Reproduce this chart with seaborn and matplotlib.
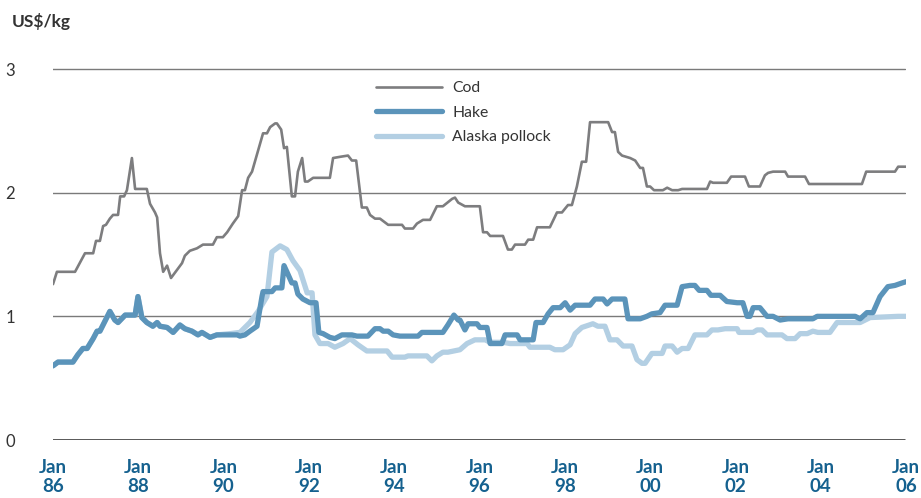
import matplotlib
matplotlib.use("Agg")
import matplotlib.pyplot as plt
import seaborn as sns
import pandas as pd

# ---- data (month index from Jan 1986, value in US$/kg) ----
cod_month = [0.0, 1.1, 6.2, 9.0, 11.3, 12.1, 13.2, 14.1, 14.9, 16.0, 16.9, 18.3, 18.9, 20.0, 20.8, 22.2, 23.1,
             26.4, 27.3, 28.7, 29.3, 30.1, 31.0, 32.1, 33.2, 36.3, 37.1, 38.5, 40.5, 42.2, 45.0, 46.1, 47.8,
             49.0, 50.6, 52.1, 53.2, 54.0, 54.9, 56.0, 59.1, 60.2, 61.1, 62.5, 63.0, 64.2, 65.0, 65.8, 67.2,
             68.1, 68.9, 70.1, 70.9, 71.7, 73.2, 77.9, 78.8, 80.8, 83.0, 84.1, 85.3, 86.9, 88.3, 89.2, 90.6,
             92.0, 94.3, 98.2, 99.0, 101.3, 102.4, 104.1, 106.1, 108.0, 109.7, 112.3, 113.1, 114.0, 115.9,
             120.1, 121.0, 122.1, 123.0, 126.6, 128.0, 129.1, 130.0, 132.8, 133.7, 135.1, 136.2, 139.8, 141.8,
             143.2, 144.9, 146.0, 147.4, 148.8, 150.0, 151.1, 156.2, 157.3, 158.1, 159.0, 160.1, 162.4, 163.8,
             165.2, 166.0, 167.1, 168.0, 169.1, 171.6, 172.8, 174.2, 175.9, 177.0, 184.0, 184.9, 185.7, 189.6,
             190.8, 194.7, 195.8, 198.9, 200.3, 201.2, 202.6, 206.0, 206.8, 211.6, 212.7, 227.6, 228.8, 236.9,
             237.8, 240.0]
cod_value = [1.26, 1.36, 1.36, 1.51, 1.51, 1.61, 1.61, 1.73, 1.74, 1.79, 1.82, 1.82, 1.97, 1.97, 2.02, 2.28, 2.03,
             2.03, 1.91, 1.84, 1.80, 1.51, 1.36, 1.41, 1.31, 1.43, 1.49, 1.53, 1.55, 1.58, 1.58, 1.64, 1.64,
             1.68, 1.75, 1.81, 2.02, 2.02, 2.12, 2.17, 2.48, 2.48, 2.53, 2.56, 2.56, 2.51, 2.36, 2.37, 1.97,
             1.97, 2.17, 2.28, 2.09, 2.09, 2.12, 2.12, 2.28, 2.29, 2.30, 2.26, 2.26, 1.88, 1.88, 1.82, 1.79,
             1.79, 1.74, 1.74, 1.71, 1.71, 1.75, 1.78, 1.78, 1.89, 1.89, 1.95, 1.96, 1.92, 1.89,
             1.89, 1.68, 1.68, 1.65, 1.65, 1.54, 1.54, 1.58, 1.58, 1.62, 1.62, 1.72, 1.72, 1.84,
             1.84, 1.90, 1.90, 2.05, 2.25, 2.25, 2.57, 2.57, 2.49, 2.49, 2.33, 2.30, 2.28, 2.26,
             2.20, 2.20, 2.05, 2.05, 2.02, 2.02, 2.04, 2.02, 2.02, 2.03, 2.03, 2.09, 2.08, 2.08,
             2.13, 2.13, 2.05, 2.05, 2.14, 2.16, 2.17, 2.17, 2.13, 2.13, 2.07, 2.07, 2.17, 2.17,
             2.21, 2.21]

hake_month = [0.0, 1.4, 5.6, 7.0, 8.4, 9.6, 11.3, 12.4, 13.2, 16.0, 17.4, 18.3, 20.3, 23.1, 23.9, 25.0, 26.4,
              28.1, 29.3, 30.1, 32.1, 33.8, 35.7, 37.1, 39.1, 40.8, 41.9, 44.2, 46.1, 51.8, 52.6, 54.0, 55.4,
              57.4, 58.8, 59.1, 61.6, 62.5, 64.4, 65.0, 65.8, 67.2, 68.1, 68.9, 70.3, 72.3, 74.0, 74.8, 76.0,
              77.9, 79.3, 81.3, 84.1, 85.5, 88.6, 90.6, 92.0, 92.9, 94.3, 95.7, 97.6, 102.7, 103.8, 109.7,
              111.1, 112.8, 114.0, 114.5, 115.9, 116.8, 119.3, 120.1, 122.1, 123.0, 126.3, 127.2, 130.6,
              131.4, 135.1, 135.9, 137.9, 139.3, 140.7, 142.7, 144.1, 145.5, 146.9, 151.1, 152.5, 154.8,
              155.9, 157.3, 160.9, 161.8, 165.2, 167.1, 168.5, 170.8, 172.2, 175.6, 177.0, 179.2, 180.6,
              181.8, 184.0, 185.1, 187.7, 189.6, 192.5, 194.1, 195.3, 196.1, 197.0, 198.9, 200.9, 202.6,
              204.6, 206.8, 208.2, 213.8, 215.0, 225.7, 227.1, 229.0, 230.7, 232.7, 234.9, 236.9, 238.9, 240.0]
hake_value = [0.60, 0.63, 0.63, 0.69, 0.74, 0.74, 0.82, 0.88, 0.88, 1.04, 0.97, 0.95, 1.01, 1.01, 1.16, 0.99, 0.95,
              0.92, 0.95, 0.92, 0.91, 0.87, 0.93, 0.90, 0.88, 0.85, 0.87, 0.83, 0.85, 0.85, 0.84, 0.85, 0.88,
              0.92, 1.16, 1.20, 1.20, 1.23, 1.23, 1.41, 1.36, 1.27, 1.27, 1.18, 1.14, 1.11, 1.11, 0.87, 0.86,
              0.83, 0.82, 0.85, 0.85, 0.84, 0.84, 0.90, 0.90, 0.88, 0.88, 0.85, 0.84, 0.84, 0.87, 0.87,
              0.93, 1.01, 0.97, 0.97, 0.89, 0.94, 0.94, 0.91, 0.91, 0.78, 0.78, 0.85, 0.85,
              0.81, 0.81, 0.95, 0.95, 1.02, 1.07, 1.07, 1.11, 1.05, 1.09, 1.09, 1.14, 1.14,
              1.10, 1.14, 1.14, 0.98, 0.98, 1.00, 1.02, 1.03, 1.09, 1.09, 1.24, 1.25, 1.25,
              1.21, 1.21, 1.17, 1.17, 1.12, 1.11, 1.11, 1.00, 1.00, 1.07, 1.07, 1.00, 1.00,
              0.97, 0.98, 0.98, 0.98, 1.00, 1.00, 0.98, 1.03, 1.03, 1.16, 1.24, 1.25, 1.27, 1.28]

pollock_month = [0.0, 1.4, 5.6, 7.0, 8.4, 9.6, 11.3, 12.4, 13.2, 16.0, 17.4, 18.3, 20.3, 23.1, 23.9, 25.0, 26.4,
                 28.1, 29.3, 30.1, 32.1, 33.8, 35.7, 37.1, 39.1, 40.8, 41.9, 44.2, 46.1, 49.8, 52.6, 55.4, 57.7,
                 60.2, 61.6, 63.9, 65.8, 67.5, 69.5, 71.5, 72.9, 73.7, 75.1, 77.4, 79.3, 81.6, 83.6, 85.8, 88.3,
                 94.0, 95.4, 99.0, 99.9, 105.2, 106.6, 108.0, 109.7, 111.1, 114.5, 116.5, 118.7, 121.6, 123.0,
                 126.6, 128.6, 133.4, 134.2, 139.8, 141.2, 143.5, 145.5, 146.9, 148.8, 151.9, 153.3, 155.3,
                 156.7, 158.7, 160.4, 162.9, 164.3, 165.7, 166.6, 168.5, 171.4, 172.2, 174.2, 175.6, 177.0,
                 178.7, 180.6, 184.0, 185.4, 187.1, 189.1, 192.5, 193.0, 197.0, 198.1, 199.5, 200.9, 205.1,
                 206.5, 208.8, 210.2, 212.2, 213.8, 215.2, 218.6, 220.6, 227.1, 229.9, 237.8, 240.0]
pollock_value = [0.60, 0.63, 0.63, 0.69, 0.74, 0.74, 0.82, 0.88, 0.88, 1.04, 0.97, 0.95, 1.01, 1.01, 1.16, 0.99, 0.95,
                 0.92, 0.95, 0.92, 0.91, 0.87, 0.93, 0.90, 0.88, 0.85, 0.87, 0.83, 0.85, 0.86, 0.87, 0.95, 1.04,
                 1.16, 1.52, 1.57, 1.54, 1.45, 1.37, 1.19, 1.19, 0.85, 0.78, 0.78, 0.75, 0.78, 0.82, 0.77, 0.72,
                 0.72, 0.67, 0.67, 0.68, 0.68, 0.64, 0.68, 0.71, 0.71, 0.73, 0.78, 0.81, 0.81, 0.79,
                 0.79, 0.78, 0.78, 0.75, 0.75, 0.73, 0.73, 0.77, 0.86, 0.91, 0.94, 0.92, 0.92,
                 0.81, 0.81, 0.76, 0.76, 0.65, 0.62, 0.62, 0.70, 0.70, 0.76, 0.76, 0.71, 0.74,
                 0.74, 0.85, 0.85, 0.89, 0.89, 0.90, 0.90, 0.87, 0.87, 0.89, 0.89, 0.85, 0.85,
                 0.82, 0.82, 0.86, 0.86, 0.88, 0.87, 0.87, 0.95, 0.95, 0.99, 1.00, 1.00]

series_names = ["Cod", "Hake", "Alaska pollock"]
tick_months = [0, 24, 48, 72, 96, 120, 144, 168, 192, 216, 240]
tick_labels = ["Jan\n86", "Jan\n88", "Jan\n90", "Jan\n92", "Jan\n94", "Jan\n96",
               "Jan\n98", "Jan\n00", "Jan\n02", "Jan\n04", "Jan\n06"]
y_ticks = [0, 1, 2, 3]
y_label = "US$/kg"

# ---- style ----
sns.set_theme(style="white")
plt.rcParams["font.family"] = ["Lato", "DejaVu Sans"]

W, H = 921, 498
fig = plt.figure(figsize=(W / 100, H / 100), dpi=100)
left_px, right_px, bottom_px, top_px = 53, 906, 440, 64
ymax = 3 * (bottom_px - top_px) / (440 - 69)
ax = fig.add_axes([left_px / W, 1 - bottom_px / H, (right_px - left_px) / W, (bottom_px - top_px) / H])

c_cod, c_hake, c_pol = "#7d7d7f", "#5b94ba", "#b3cfe3"

for yv in y_ticks:
    ax.axhline(yv, color="#2b2b2b" if yv == 0 else "#7a7a7a", lw=1.1 if yv == 0 else 1.0,
               zorder=1, xmin=-0.001, xmax=0.9985)

df_cod = pd.DataFrame({"month": cod_month, "value": cod_value})
df_hake = pd.DataFrame({"month": hake_month, "value": hake_value})
df_pol = pd.DataFrame({"month": pollock_month, "value": pollock_value})

sns.lineplot(data=df_cod, x="month", y="value", ax=ax, color=c_cod, lw=1.9, zorder=3,
             estimator=None, sort=False, label=series_names[0])
sns.lineplot(data=df_pol, x="month", y="value", ax=ax, color=c_pol, lw=3.8, zorder=4,
             estimator=None, sort=False, label=series_names[2], solid_capstyle="round",
             solid_joinstyle="round")
sns.lineplot(data=df_hake, x="month", y="value", ax=ax, color=c_hake, lw=3.8, zorder=5,
             estimator=None, sort=False, label=series_names[1], solid_capstyle="round",
             solid_joinstyle="round")

ax.set_xlim(0, 240)
ax.set_ylim(0, ymax)
for s in ax.spines.values():
    s.set_visible(False)
ax.set_xlabel("")
ax.set_ylabel("")
ax.set_xticks(tick_months)
ax.set_xticklabels(tick_labels, fontsize=13.5, fontweight="bold", color="#15618f", linespacing=1.1)
ax.set_yticks(y_ticks)
ax.set_yticklabels([str(v) for v in y_ticks], fontsize=12, color="#333333")
ax.tick_params(axis="x", length=0, pad=14)
ax.tick_params(axis="y", length=0, pad=31)
for lbl in ax.get_yticklabels():
    lbl.set_horizontalalignment("center")

fig.text(12 / W, 1 - 21 / H, y_label, fontsize=12.5, fontweight="bold", color="#333333",
         ha="left", va="center")

handles, labels = ax.get_legend_handles_labels()
order = [labels.index(n) for n in series_names]
ax.legend([handles[i] for i in order], [labels[i] for i in order], loc="upper left",
          bbox_to_anchor=(376 / W, 1 - 81 / H), bbox_transform=fig.transFigure, frameon=False,
          fontsize=11.3, handlelength=4.2, handletextpad=0.65, labelspacing=0.68, borderpad=0,
          borderaxespad=0, labelcolor="#333333")

fig.savefig("out.png", dpi=100)
